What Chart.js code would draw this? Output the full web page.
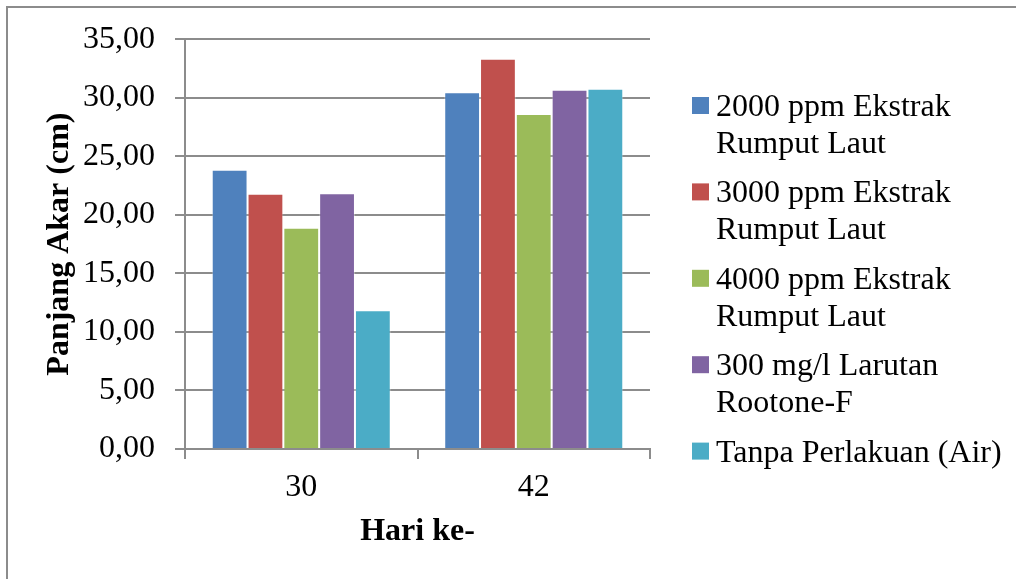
<!DOCTYPE html>
<html>
<head>
<meta charset="utf-8">
<title>Panjang Akar</title>
<script src="https://cdn.jsdelivr.net/npm/chart.js@4"></script>
<style>
	html, body { margin: 0; padding: 0; background: #fff; }
	#wrap { width: 1016px; height: 579px; position: relative; }
</style>
</head>
<body>
<div id="wrap"><canvas id="akarChart"></canvas></div>
<script>
const days = ['30', '42'];
const seriesNames = [
	'2000 ppm Ekstrak Rumput Laut',
	'3000 ppm Ekstrak Rumput Laut',
	'4000 ppm Ekstrak Rumput Laut',
	'300 mg/l Larutan Rootone-F',
	'Tanpa Perlakuan (Air)'
];
const ekstrak2000 = [23.85, 30.47];
const ekstrak3000 = [21.80, 33.33];
const ekstrak4000 = [18.90, 28.62];
const rootone = [21.85, 30.69];
const air = [11.85, 30.77];
const colors = ['#4F81BD', '#C0504D', '#9BBB59', '#8064A2', '#4BACC6'];

const serif = '"Liberation Serif", "Times New Roman", serif';
const fontSize = 32;
const gridGrey = '#8c8c8c';

// legend on the right, wrapped like the office-style chart
const sideLegend = {
	id: 'sideLegend',
	afterDraw(chart) {
		const ctx = chart.ctx;
		ctx.save();

		// frame edges
		ctx.strokeStyle = '#8c8c8c';
		ctx.lineWidth = 2;
		ctx.beginPath();
		ctx.moveTo(7, 579);
		ctx.lineTo(7, 7);
		ctx.lineTo(1016, 7);
		ctx.stroke();

		ctx.font = fontSize + 'px ' + serif;
		ctx.fillStyle = '#000';
		ctx.textBaseline = 'alphabetic';
		const lineH = 36.7;
		let y = 116;
		chart.data.datasets.forEach(ds => {
			const words = ds.label.split(' ');
			const lines = [];
			let cur = '';
			words.forEach(w => {
				const t = cur ? cur + ' ' + w : w;
				if (ctx.measureText(t).width > 298 && cur) {
					lines.push(cur);
					cur = w;
				} else {
					cur = t;
				}
			});
			lines.push(cur);

			ctx.fillStyle = ds.backgroundColor;
			ctx.fillRect(692, y - 19, 17, 17);
			ctx.fillStyle = '#000';
			lines.forEach((l, i) => ctx.fillText(l, 716, y + i * lineH));
			y += lines.length * lineH + 13;
		});
		ctx.restore();
	}
};

const data = [ekstrak2000, ekstrak3000, ekstrak4000, rootone, air];

new Chart(document.getElementById('akarChart'), {
	type: 'bar',
	data: {
		labels: days,
		datasets: data.map((vals, i) => ({
			label: seriesNames[i],
			data: vals,
			backgroundColor: colors[i],
			borderColor: 'rgba(255,255,255,0.35)',
			borderWidth: 1,
			categoryPercentage: 0.77,
			barPercentage: 1
		}))
	},
	options: {
		responsive: true,
		maintainAspectRatio: false,
		animation: false,
		layout: { padding: { left: 8, top: 39, right: 366, bottom: 0 } },
		plugins: {
			legend: { display: false },
			tooltip: { enabled: false }
		},
		scales: {
			x: {
				afterFit(scale) { scale.height = 130; },
				grid: {
					drawOnChartArea: false,
					drawTicks: true,
					tickLength: 10,
					color: gridGrey,
					lineWidth: 2
				},
				border: { color: gridGrey, width: 2 },
				ticks: {
					color: '#000',
					padding: 9,
					font: { family: serif, size: fontSize }
				},
				title: {
					display: true,
					text: 'Hari ke-',
					color: '#000',
					padding: { top: 0, bottom: 28 },
					font: { family: serif, size: fontSize, weight: 'bold' }
				}
			},
			y: {
				min: 0,
				max: 35,
				afterFit(scale) { scale.width = 177; },
				grid: {
					color: gridGrey,
					lineWidth: 2,
					tickLength: 10
				},
				border: { color: gridGrey, width: 2 },
				ticks: {
					stepSize: 5,
					color: '#000',
					padding: 20,
					font: { family: serif, size: fontSize },
					callback: v => v.toFixed(2).replace('.', ',')
				},
				title: {
					display: true,
					text: 'Panjang Akar (cm)',
					color: '#000',
					padding: { top: 33, bottom: 0 },
					font: { family: serif, size: fontSize, weight: 'bold' }
				}
			}
		}
	},
	plugins: [sideLegend]
});
</script>
</body>
</html>
